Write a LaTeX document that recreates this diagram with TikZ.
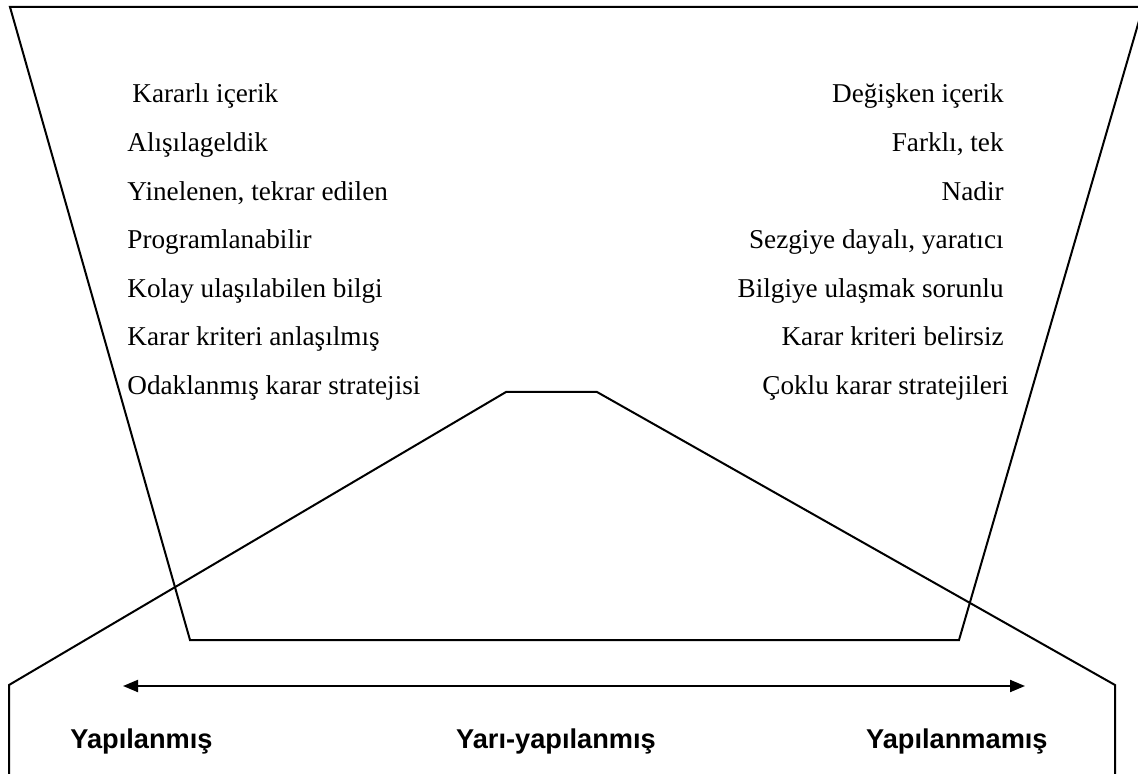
\documentclass[tikz,border=0pt]{standalone}
\usepackage{fontspec}
\setmainfont{Liberation Serif}
\setsansfont{Liberation Sans}
\usetikzlibrary{arrows.meta, positioning}

\begin{document}
\begin{tikzpicture}[
    x=0.5pt, y=-0.5pt,
    node distance=10.4pt,
    item/.style={inner sep=0pt, text height=10pt, text depth=3.5pt, font=\fontsize{13.6}{16}\selectfont},
    level/.style={inner sep=0pt, anchor=base, font=\sffamily\bfseries\fontsize{13.6}{16}\selectfont},
    outline/.style={line width=1pt, line join=miter},
    arrow/.style={{Triangle[length=7.5pt,width=6pt]}-{Triangle[length=7.5pt,width=6pt]}, line width=1pt}
]
    \useasboundingbox (0,0) rectangle (1138,774);
    \clip (0,0) rectangle (1138,774);

    % Shapes
    \draw[outline] (10,7) -- (1143,7) -- (959,640) -- (190,640) -- cycle;
    \draw[outline] (9,790) -- (9,685) -- (506,392) -- (597,392) -- (1115,685) -- (1115,790);

    % Left column
    \node[item, anchor=base west] (stable) at (132,103) {Kararlı içerik};
    \node[item, below=of stable.south west, anchor=north west, xshift=-2.5pt] (routine) {Alışılageldik};
    \node[item, below=of routine.south west, anchor=north west] (repeated) {Yinelenen, tekrar edilen};
    \node[item, below=of repeated.south west, anchor=north west] (programmable) {Programlanabilir};
    \node[item, below=of programmable.south west, anchor=north west] (easyinfo) {Kolay ulaşılabilen bilgi};
    \node[item, below=of easyinfo.south west, anchor=north west] (clearcrit) {Karar kriteri anlaşılmış};
    \node[item, below=of clearcrit.south west, anchor=north west] (focused) {Odaklanmış karar stratejisi};

    % Right column
    \node[item, anchor=base east] (variable) at (1004,103) {Değişken içerik};
    \node[item, below=of variable.south east, anchor=north east] (unique) {Farklı, tek};
    \node[item, below=of unique.south east, anchor=north east] (rare) {Nadir};
    \node[item, below=of rare.south east, anchor=north east] (intuitive) {Sezgiye dayalı, yaratıcı};
    \node[item, below=of intuitive.south east, anchor=north east] (hardinfo) {Bilgiye ulaşmak sorunlu};
    \node[item, below=of hardinfo.south east, anchor=north east] (vaguecrit) {Karar kriteri belirsiz};
    \node[item, below=of vaguecrit.south east, anchor=north east, xshift=2.5pt] (multiple) {Çoklu karar stratejileri};

    % Scale
    \coordinate (scaleleft) at (123,686);
    \coordinate (scaleright) at (1025,686);
    \draw[arrow] (scaleleft) -- (scaleright);

    \node[level, anchor=base west] (structured) at (70,748) {Yapılanmış};
    \node[level] (semi) at (556,748) {Yarı-yapılanmış};
    \node[level, anchor=base east] (unstructured) at (1048,748) {Yapılanmamış};
\end{tikzpicture}
\end{document}
